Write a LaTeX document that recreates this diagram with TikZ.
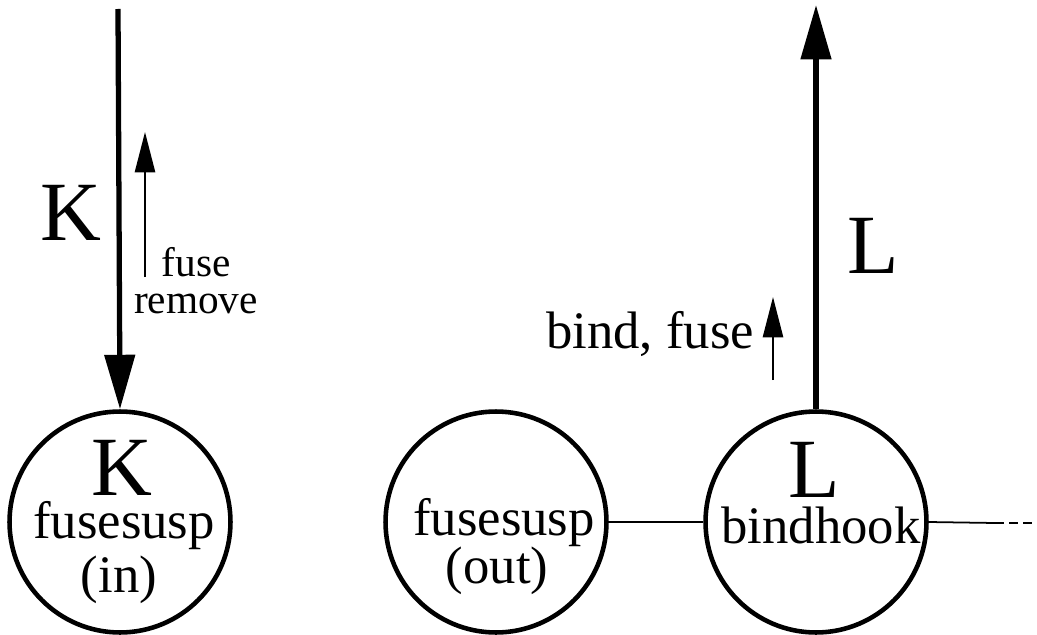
\documentclass[tikz,border=0pt]{standalone}
\usepackage{fontspec}
\setmainfont{Liberation Serif}
\usetikzlibrary{arrows.meta,positioning}
\newcommand{\bigtxt}{\fontsize{48}{50}\selectfont}
\newcommand{\midtxt}{\fontsize{30}{31}\selectfont}
\newcommand{\smalltxt}{\fontsize{23.5}{20.5}\selectfont}

\begin{document}
\begin{tikzpicture}[x=0.02cm, y=-0.02cm,
    susp/.style={draw, circle, line width=2.6pt, minimum size=4.42cm, inner sep=0pt},
    bigflow/.style={line width=3pt, -{Triangle[length=31pt,width=17pt]}},
    smallflow/.style={line width=1.2pt, -{Triangle[length=23pt,width=11.5pt]}},
    link/.style={line width=1pt},
    txt/.style={anchor=base, inner sep=0pt}]
    \useasboundingbox (0,0) rectangle (1037,635);

    % LEFT: incoming fuse suspension
    \node[susp] (fin) at (120,522) {};
    \node[txt] (finK) at (122,495) {\bigtxt K};
    \node[txt] (finA) at (124,538) {\midtxt fusesusp};
    \node[txt] (finB) at (119,592) {\midtxt (in)};
    \coordinate (ktop) at (118,9);
    \draw[bigflow] (ktop) -- (fin.north);
    \node[txt] (klab) at (71,240) {\bigtxt K};
    \coordinate (rmlo) at (145,277);
    \coordinate (rmhi) at (145,132);
    \draw[smallflow] (rmlo) -- (rmhi);
    \node[txt, align=center, font=\smalltxt] (rmlab) at (196,313) {fuse\\remove};

    % MIDDLE: outgoing fuse suspension
    \node[susp] (fout) at (496,522) {};
    \node[txt] (foutA) at (504,535) {\midtxt fusesusp};
    \node[txt] (foutB) at (497,583) {\midtxt (out)};

    % RIGHT: bind hook
    \node[susp] (bhook) at (816,522) {};
    \node[txt] (bhookL) at (814,497) {\bigtxt L};
    \node[txt] (bhookA) at (821,543) {\midtxt bindhook};
    \coordinate (ltop) at (816,5);
    \draw[bigflow] (bhook.north) -- (ltop);
    \node[txt] (llab) at (873,273) {\bigtxt L};
    \coordinate (bflo) at (773,380);
    \coordinate (bfhi) at (773,297);
    \draw[smallflow] (bflo) -- (bfhi);
    \node[txt] (bflab) at (650,348) {\midtxt bind, fuse};

    % links
    \coordinate (tail) at (995,523);
    \coordinate (tailend) at (1037,523);
    \draw[link] (fout.east) -- (bhook.west);
    \draw[link] (bhook.east) -- (tail);
    \draw[link, dash pattern=on 5pt off 3pt] (tail) -- (tailend);
\end{tikzpicture}
\end{document}
